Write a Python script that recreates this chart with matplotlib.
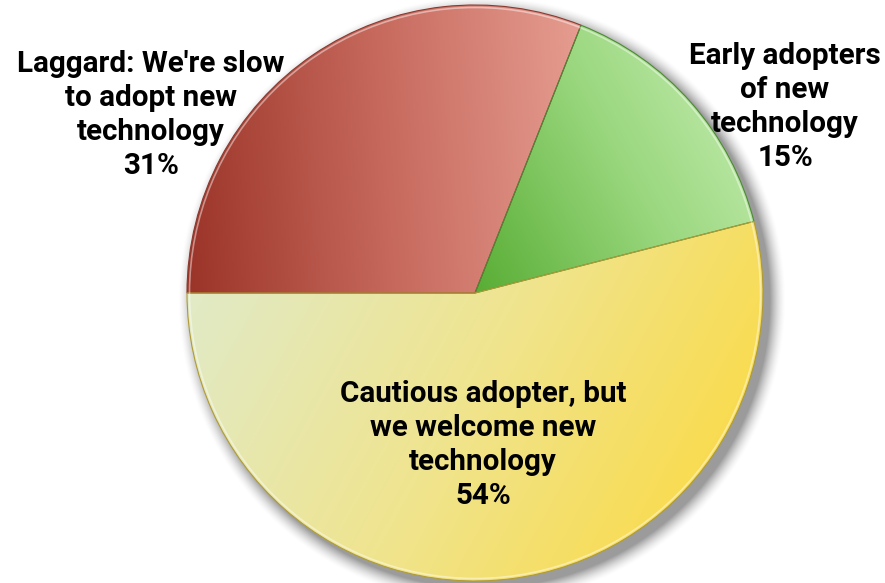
import numpy as np
import matplotlib.pyplot as plt
from matplotlib.colors import LinearSegmentedColormap

# survey answers, in drawing order (clockwise from 9 o'clock)
labels = ["Laggard: We're slow\nto adopt new\ntechnology",
          "Early adopters\nof new\ntechnology",
          "Cautious adopter, but\nwe welcome new\ntechnology"]
shares = [31, 15, 54]

# gradient stops for each wedge and the direction they run in
grad_colors = [["#9b3428", "#c7695d", "#e69d91"],
               ["#58ad34", "#98d67c", "#cbf0b8"],
               ["#dfebcd", "#f0e48c", "#fdd836"]]
grad_dirs = [(1.0, 0.08), (1.0, 0.55), (1.0, -0.55)]
edge_colors = ["#8a3a30", "#4d8a35", "#b09c35"]

label_pos = [(151, 468), (785, 476), (483, 138)]

W, H = 885, 583
cx, cy, r = 475, 290, 288

fig = plt.figure(figsize=(W / 100, H / 100), dpi=100)
ax = fig.add_axes([0, 0, 1, 1])

# soft drop shadow to the lower right
xx, yy = np.meshgrid(np.arange(W) + 0.5, np.arange(H) + 0.5)
d = np.hypot(xx - (cx + 7), yy - (cy - 7)) - r
a = np.clip(1 - d / 16.0, 0, 1) ** 1.6 * 0.6
shadow = np.zeros((H, W, 4))
shadow[..., :3] = 0.35
shadow[..., 3] = a
ax.imshow(shadow, extent=(0, W, 0, H), origin='lower', zorder=0, interpolation='bilinear')

wedges, _ = ax.pie(shares, startangle=180, counterclock=False, center=(cx, cy),
                   radius=r, frame=True,
                   wedgeprops=dict(linewidth=0.8, facecolor='none'))
ax.set_xlim(0, W)
ax.set_ylim(0, H)
ax.set_aspect('equal')
ax.axis('off')

for w, cols, (dx, dy), ec in zip(wedges, grad_colors, grad_dirs, edge_colors):
    verts = w.get_patch_transform().transform(w.get_path().vertices)
    x0, x1 = verts[:, 0].min(), verts[:, 0].max()
    y0, y1 = verts[:, 1].min(), verts[:, 1].max()
    gx, gy = np.meshgrid(np.linspace(x0, x1, 300), np.linspace(y0, y1, 300))
    t = gx * dx + gy * dy
    t = (t - t.min()) / (t.max() - t.min())
    cmap = LinearSegmentedColormap.from_list('g', cols)
    im = ax.imshow(t, cmap=cmap, extent=(x0, x1, y0, y1), origin='lower',
                   zorder=1, interpolation='bilinear', aspect='auto')
    im.set_clip_path(w)
    w.set_edgecolor(ec)
    w.set_zorder(2)

# light bevel just inside the rim
ax.add_patch(plt.Circle((cx, cy), r - 2.5, fill=False, ec='white', lw=1.2, alpha=0.45, zorder=2))

for (tx, ty), lab, s in zip(label_pos, labels, shares):
    ax.text(tx, ty, f"{lab}\n{s}%", ha='center', va='center', fontsize=21.3,
            family=['Roboto', 'DejaVu Sans'], fontweight='bold',
            linespacing=1.28, color='black', zorder=3)

fig.savefig('out.png', dpi=100)
